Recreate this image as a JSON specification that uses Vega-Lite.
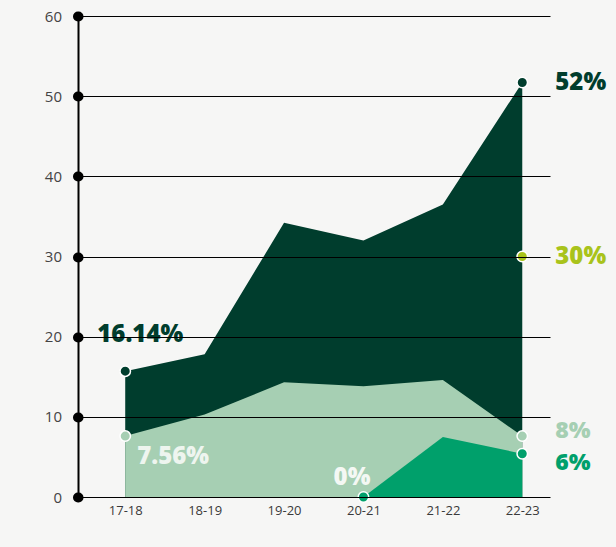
{
  "$schema": "https://vega.github.io/schema/vega-lite/v6.json",
  "width": 472,
  "height": 481,
  "autosize": {"type": "none"},
  "padding": {"left": 78, "top": 16, "right": 66, "bottom": 50},
  "background": "#f6f6f5",
  "config": {"view": {"stroke": null}},
  "datasets": {
    "areas": [
      {"year": "17-18", "series": "dark", "value": 15.7},
      {"year": "18-19", "series": "dark", "value": 17.8},
      {"year": "19-20", "series": "dark", "value": 34.2},
      {"year": "20-21", "series": "dark", "value": 32.0},
      {"year": "21-22", "series": "dark", "value": 36.5},
      {"year": "22-23", "series": "dark", "value": 51.7},
      {"year": "17-18", "series": "light", "value": 7.6},
      {"year": "18-19", "series": "light", "value": 10.3},
      {"year": "19-20", "series": "light", "value": 14.3},
      {"year": "20-21", "series": "light", "value": 13.8},
      {"year": "21-22", "series": "light", "value": 14.6},
      {"year": "22-23", "series": "light", "value": 7.6},
      {"year": "20-21", "series": "bright", "value": 0},
      {"year": "21-22", "series": "bright", "value": 7.5},
      {"year": "22-23", "series": "bright", "value": 5.4}
    ],
    "points": [
      {"year": "17-18", "series": "dark", "value": 15.7, "label": "16.14%", "pos": "a"},
      {"year": "17-18", "series": "light", "value": 7.6, "label": "7.56%", "pos": "b"},
      {"year": "20-21", "series": "bright", "value": 0, "label": "0%", "pos": "c"},
      {"year": "22-23", "series": "dark", "value": 51.7, "label": "52%", "pos": "r"},
      {"year": "22-23", "series": "lime", "value": 30, "label": "30%", "pos": "r"},
      {"year": "22-23", "series": "light", "value": 7.6, "label": "8%", "pos": "r8"},
      {"year": "22-23", "series": "bright", "value": 5.4, "label": "6%", "pos": "r6"}
    ]
  },
  "encoding": {
    "x": {
      "field": "year", "type": "ordinal",
      "scale": {"type": "point", "padding": 0.472, "align": 0.63},
      "axis": {"title": null, "domain": false, "ticks": false, "labelFontSize": 13, "labelColor": "#3a3a3a", "labelFont": "Open Sans", "labelPadding": 7, "labelAngle": 0}
    },
    "y": {
      "field": "value", "type": "quantitative",
      "scale": {"domain": [0, 60], "nice": false},
      "axis": {"title": null, "values": [0, 10, 20, 30, 40, 50, 60], "domain": true, "domainColor": "#000", "domainWidth": 2,
        "grid": true, "gridColor": "#000", "gridWidth": 1.2, "gridOpacity": 1,
        "ticks": true, "tickColor": "#000", "tickWidth": 10, "tickSize": 0.5, "tickCap": "round",
        "labelFontSize": 15, "labelColor": "#444", "labelFont": "Open Sans", "labelPadding": 16, "zindex": 1}
    },
    "color": {
      "field": "series", "type": "nominal", "legend": null,
      "scale": {"domain": ["dark", "light", "bright", "lime"], "range": ["#003d2d", "#a6cfb3", "#00a06b", "#a9c31b"]}
    }
  },
  "layer": [
    {"data": {"name": "areas"}, "transform": [{"filter": "datum.series == 'dark'"}], "mark": {"type": "area", "opacity": 1}, "encoding": {"y": {"field": "value", "type": "quantitative", "stack": null}}},
    {"data": {"name": "areas"}, "transform": [{"filter": "datum.series == 'light'"}], "mark": {"type": "area", "opacity": 1}, "encoding": {"y": {"field": "value", "type": "quantitative", "stack": null}}},
    {"data": {"name": "areas"}, "transform": [{"filter": "datum.series == 'bright'"}], "mark": {"type": "area", "opacity": 1}, "encoding": {"y": {"field": "value", "type": "quantitative", "stack": null}}},
    {"data": {"name": "points"}, "mark": {"type": "point", "filled": true, "size": 110, "opacity": 1, "stroke": "#ffffff", "strokeWidth": 1.5}, "encoding": {"stroke": {"value": "#ffffff"}}},
    {"data": {"name": "points"}, "transform": [{"filter": "datum.pos == 'a'"}], "mark": {"type": "text", "font": "Open Sans", "fontWeight": 800, "fontSize": 24, "align": "center", "baseline": "middle", "dx": 15, "dy": -36}, "encoding": {"text": {"field": "label"}}},
    {"data": {"name": "points"}, "transform": [{"filter": "datum.pos == 'b'"}], "mark": {"type": "text", "font": "Open Sans", "fontWeight": 800, "fontSize": 24, "align": "left", "baseline": "middle", "dx": 12, "dy": 21}, "encoding": {"text": {"field": "label"}, "color": {"value": "#eef5ef"}}},
    {"data": {"name": "points"}, "transform": [{"filter": "datum.pos == 'c'"}], "mark": {"type": "text", "font": "Open Sans", "fontWeight": 800, "fontSize": 24, "align": "right", "baseline": "middle", "dx": 7, "dy": -19}, "encoding": {"text": {"field": "label"}, "color": {"value": "#f4f8f4"}}},
    {"data": {"name": "points"}, "transform": [{"filter": "datum.pos == 'r'"}], "mark": {"type": "text", "font": "Open Sans", "fontWeight": 800, "fontSize": 24, "align": "left", "baseline": "middle", "dx": 33, "dy": 0}, "encoding": {"text": {"field": "label"}}},
    {"data": {"name": "points"}, "transform": [{"filter": "datum.pos == 'r8'"}], "mark": {"type": "text", "font": "Open Sans", "fontWeight": 800, "fontSize": 23, "align": "left", "baseline": "middle", "dx": 33, "dy": -5}, "encoding": {"text": {"field": "label"}}},
    {"data": {"name": "points"}, "transform": [{"filter": "datum.pos == 'r6'"}], "mark": {"type": "text", "font": "Open Sans", "fontWeight": 800, "fontSize": 23, "align": "left", "baseline": "middle", "dx": 33, "dy": 9}, "encoding": {"text": {"field": "label"}}}
  ]
}
